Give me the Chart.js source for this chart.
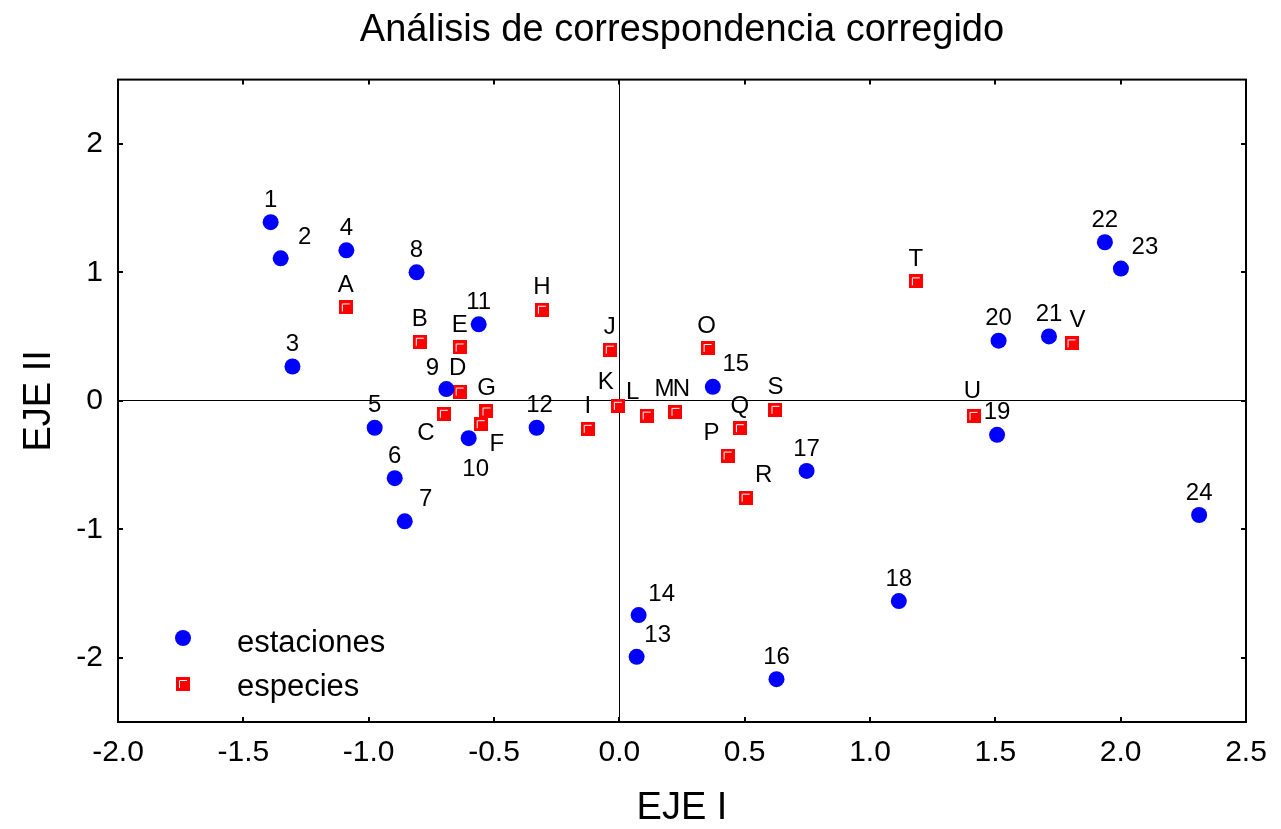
<!DOCTYPE html>
<html>
<head>
<meta charset="utf-8">
<title>Análisis de correspondencia corregido</title>
<script src="https://cdn.jsdelivr.net/npm/chart.js@4/dist/chart.umd.min.js"></script>
<style>
  html, body { margin: 0; padding: 0; background: #fff; }
  #wrap { width: 1281px; height: 829px; position: relative; }
</style>
</head>
<body>
<div id="wrap"><canvas id="chart"></canvas></div>
<script>
// estaciones (station scores)
const stationLabels = ['1','2','3','4','5','6','7','8','9','10','11','12',
  '13','14','15','16','17','18','19','20','21','22','23','24'];
const stationX = [-1.391, -1.351, -1.304, -1.089, -0.976, -0.896, -0.856, -0.809,
  -0.690, -0.601, -0.561, -0.330, 0.069, 0.077, 0.373, 0.627,
  0.747, 1.115, 1.507, 1.513, 1.714, 1.937, 2.001, 2.313];
const stationY = [1.390, 1.109, 0.267, 1.171, -0.210, -0.602, -0.938, 1.000,
  0.091, -0.291, 0.595, -0.210, -1.993, -1.668, 0.109, -2.167,
  -0.546, -1.559, -0.265, 0.468, 0.501, 1.234, 1.029, -0.889];

// especies (species scores)
const speciesLabels = ['A','B','C','D','E','F','G','H','I','J','K',
  'L','M','N','O','P','Q','R','S','T','U','V'];
const speciesX = [-1.091, -0.796, -0.700, -0.637, -0.637, -0.553, -0.530, -0.309,
  -0.126, -0.038, -0.006, 0.109, 0.224, 0.224, 0.352, 0.432,
  0.481, 0.504, 0.623, 1.183, 1.413, 1.804];
const speciesY = [0.727, 0.460, -0.101, 0.072, 0.415, -0.182, -0.083, 0.709,
  -0.218, 0.398, -0.039, -0.115, -0.086, -0.086, 0.411, -0.426,
  -0.213, -0.754, -0.070, 0.930, -0.117, 0.447];

const xTicks = [-2.0, -1.5, -1.0, -0.5, 0.0, 0.5, 1.0, 1.5, 2.0, 2.5];
const yTicks = [-2, -1, 0, 1, 2];

// where each point name sits relative to its marker (px), default is straight above
const labelOffsets = {
  '2': [24, -21], '7': [21, -22], '9': [-14, -21], '10': [7, 31], '12': [3, -22],
  '13': [21, -21], '14': [23, -21], '15': [23, -22], '23': [24, -21],
  'C': [-18, 20], 'D': [-2, -23], 'F': [16, 20], 'G': [0, -23], 'K': [-12, -23],
  'L': [-14, -23], 'M': [-11, -22], 'N': [6, -22], 'O': [-1, -22], 'P': [-16, -22],
  'R': [18, -22], 'U': [-1, -24], 'V': [6, -23]
};

const FONT = "'Liberation Sans', Arial, Helvetica, sans-serif";
Chart.defaults.font.family = FONT;
Chart.defaults.color = '#000';

// red square marker with the little white bevel in its corner
const squareMark = (() => {
  const c = document.createElement('canvas');
  c.width = 14; c.height = 14;
  const g = c.getContext('2d');
  g.fillStyle = '#ff0000';
  g.fillRect(0, 0, 14, 14);
  g.strokeStyle = '#ffffff';
  g.lineWidth = 1;
  g.beginPath();
  g.moveTo(3.5, 11);
  g.lineTo(3.5, 3.5);
  g.lineTo(11, 3.5);
  g.stroke();
  return c;
})();

const toPoints = (xs, ys) => xs.map((x, i) => ({ x: x, y: ys[i] }));

// frame, inward ticks, point names and the legend box
const decorations = {
  id: 'decorations',
  afterDatasetsDraw(chart) {
    const { ctx, chartArea: a, scales } = chart;
    ctx.save();

    // point names
    ctx.font = '24px ' + FONT;
    ctx.fillStyle = '#000';
    ctx.textAlign = 'center';
    ctx.textBaseline = 'middle';
    const names = [stationLabels, speciesLabels];
    chart.data.datasets.forEach((ds, d) => {
      chart.getDatasetMeta(d).data.forEach((pt, i) => {
        const name = names[d][i];
        const off = labelOffsets[name] || [0, -22];
        ctx.fillText(name, pt.x + off[0], pt.y + off[1]);
      });
    });

    // box around the plot
    ctx.strokeStyle = '#000';
    ctx.lineWidth = 2;
    ctx.strokeRect(a.left, a.top, a.right - a.left, a.bottom - a.top);

    // tick marks pointing into the plot on all four sides
    const tl = 5;
    ctx.beginPath();
    xTicks.forEach(v => {
      const px = Math.round(scales.x.getPixelForValue(v));
      ctx.moveTo(px, a.bottom); ctx.lineTo(px, a.bottom - tl);
      ctx.moveTo(px, a.top); ctx.lineTo(px, a.top + tl);
    });
    yTicks.forEach(v => {
      const py = Math.round(scales.y.getPixelForValue(v));
      ctx.moveTo(a.left, py); ctx.lineTo(a.left + tl, py);
      ctx.moveTo(a.right, py); ctx.lineTo(a.right - tl, py);
    });
    ctx.stroke();

    // legend, lower left inside the plot
    const lx = a.left + 65;
    const markY = [a.bottom - 84, a.bottom - 38];
    const textY = [a.bottom - 79, a.bottom - 35];
    ctx.fillStyle = '#0000ff';
    ctx.beginPath();
    ctx.arc(lx, markY[0], 8, 0, Math.PI * 2);
    ctx.fill();
    ctx.drawImage(squareMark, lx - 7, markY[1] - 7);
    ctx.fillStyle = '#000';
    ctx.font = '31px ' + FONT;
    ctx.textAlign = 'left';
    ctx.fillText(chart.data.datasets[0].label, lx + 54, textY[0]);
    ctx.fillText(chart.data.datasets[1].label, lx + 54, textY[1]);
    ctx.restore();
  }
};

const zeroLine = c => (c.tick && c.tick.value === 0 ? '#000' : 'rgba(0,0,0,0)');

new Chart(document.getElementById('chart'), {
  type: 'scatter',
  data: {
    datasets: [
      {
        label: 'estaciones',
        data: toPoints(stationX, stationY),
        pointStyle: 'circle',
        pointRadius: 8,
        backgroundColor: '#0000ff',
        borderWidth: 0
      },
      {
        label: 'especies',
        data: toPoints(speciesX, speciesY),
        pointStyle: squareMark,
        pointRadius: 7,
        backgroundColor: '#ff0000',
        borderWidth: 0
      }
    ]
  },
  options: {
    responsive: true,
    maintainAspectRatio: false,
    animation: false,
    events: [],
    layout: { padding: { left: 0, right: 35, top: 0, bottom: 0 } },
    plugins: {
      legend: { display: false },
      tooltip: { enabled: false },
      title: {
        display: true,
        fullSize: false,
        text: 'Análisis de correspondencia corregido',
        font: { size: 38, weight: 'normal' },
        color: '#000',
        padding: { top: 8, bottom: 26 }
      }
    },
    scales: {
      x: {
        type: 'linear',
        min: -2.0,
        max: 2.5,
        afterBuildTicks: axis => { axis.ticks = xTicks.map(v => ({ value: v })); },
        afterFit: axis => { axis.height = 107; },
        ticks: {
          font: { size: 30 },
          padding: 13,
          callback: v => v.toFixed(1)
        },
        grid: { color: zeroLine, lineWidth: 1, drawTicks: false },
        border: { display: false },
        title: {
          display: true,
          text: 'EJE I',
          font: { size: 38, lineHeight: 1.1 },
          padding: { top: 0, bottom: 0 }
        }
      },
      y: {
        type: 'linear',
        min: -2.5,
        max: 2.5,
        afterBuildTicks: axis => { axis.ticks = yTicks.map(v => ({ value: v })); },
        afterFit: axis => { axis.width = 118; },
        ticks: {
          font: { size: 30 },
          padding: 15,
          callback: v => String(v)
        },
        grid: { color: zeroLine, lineWidth: 1, drawTicks: false },
        border: { display: false },
        title: {
          display: true,
          text: 'EJE II',
          font: { size: 38, lineHeight: 1.1 },
          padding: { top: 19, bottom: 0 }
        }
      }
    }
  },
  plugins: [decorations]
});
</script>
</body>
</html>
